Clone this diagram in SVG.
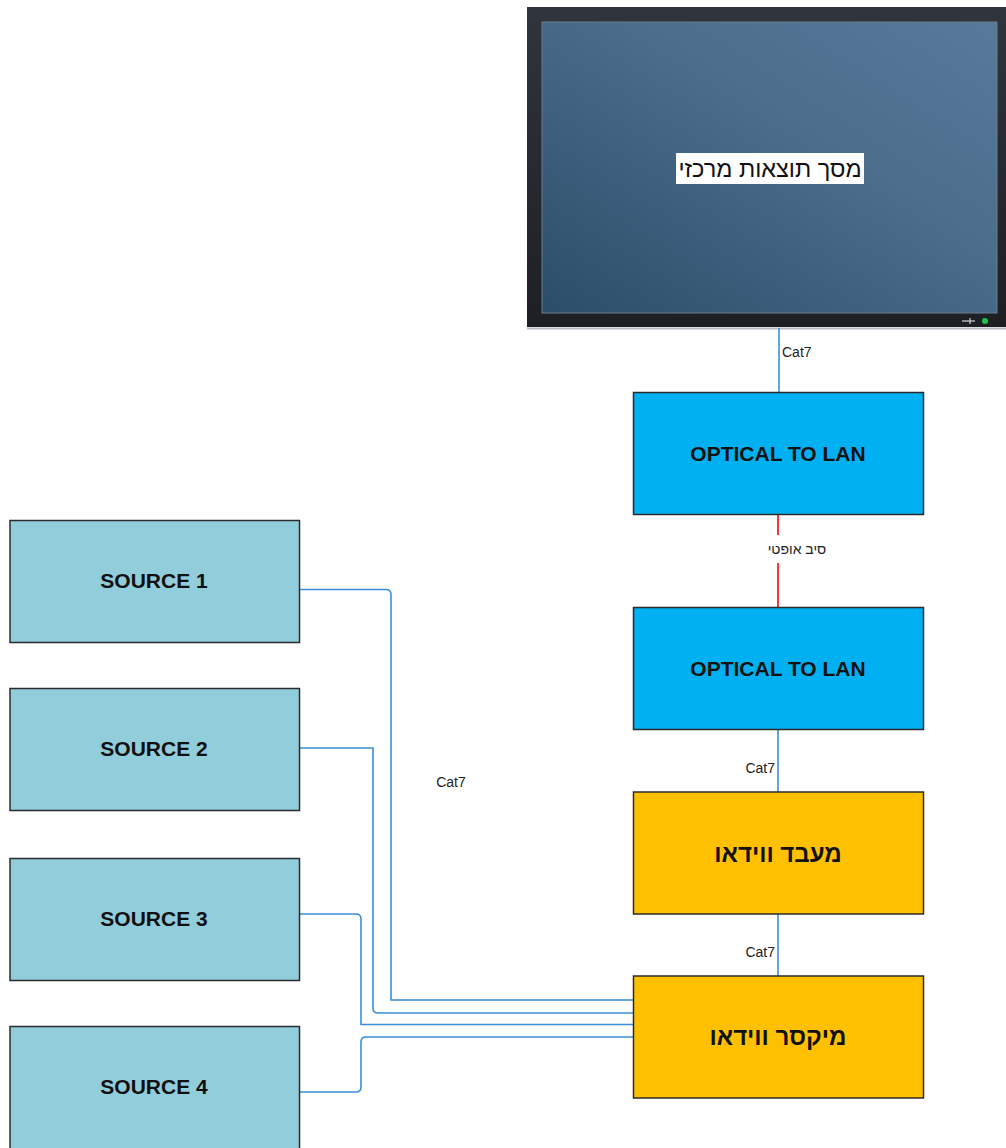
<svg xmlns="http://www.w3.org/2000/svg" width="1006" height="1148" viewBox="0 0 1006 1148">
<defs>
<linearGradient id="frameG" x1="0" y1="0" x2="0" y2="1">
<stop offset="0" stop-color="#30343c"/>
<stop offset="1" stop-color="#1d1f23"/>
</linearGradient>
<linearGradient id="screenG" x1="0" y1="1" x2="1" y2="0">
<stop offset="0" stop-color="#2a4d69"/>
<stop offset="0.6" stop-color="#4b6e8d"/>
<stop offset="1" stop-color="#58799a"/>
</linearGradient>
<style>
.box{stroke:#2b2b2b;stroke-width:1.5}
.src{fill:#92cddc}
.opt{fill:#00b0f0}
.yel{fill:#ffc000}
.lbl{font-family:"Liberation Sans","DejaVu Sans",sans-serif;font-weight:bold;font-size:21px;fill:#111;text-anchor:middle}
.heb{font-size:24px}
.small{font-family:"Liberation Sans","DejaVu Sans",sans-serif;font-size:14px;fill:#222}
.wire{fill:none;stroke:#3b8ed8;stroke-width:1.6}
</style>
</defs>

<g id="monitor">
<rect x="527" y="7" width="479" height="320" fill="url(#frameG)"/>
<rect x="542" y="22" width="455" height="291" fill="url(#screenG)" stroke="#6b7e90" stroke-width="1"/>
<line x1="527" y1="328.5" x2="1006" y2="328.5" stroke="#b8bcc2" stroke-width="2"/>
<line x1="962" y1="321" x2="975" y2="321" stroke="#cfd3d8" stroke-width="1.2"/>
<line x1="970" y1="318" x2="970" y2="324" stroke="#cfd3d8" stroke-width="1.2"/>
<circle cx="985" cy="321" r="3" fill="#1fc24a"/>
<rect x="676" y="153" width="188" height="31" fill="#ffffff"/>
<text x="770" y="177" font-family="Liberation Sans, DejaVu Sans, sans-serif" font-size="23.5" fill="#111" text-anchor="middle">מסך תוצאות מרכזי</text>
</g>

<g id="connectors">
<line x1="779" y1="328" x2="779" y2="392" class="wire"/>
<text x="782" y="357" class="small">Cat7</text>
<line x1="778" y1="515" x2="778" y2="535" stroke="#ff2020" stroke-width="1.8"/>
<line x1="778" y1="563" x2="778" y2="607" stroke="#ff2020" stroke-width="1.8"/>
<text x="797" y="554" class="small" text-anchor="middle" font-size="16">סיב אופטי</text>
<line x1="778" y1="730" x2="778" y2="792" class="wire"/>
<text x="775" y="773" class="small" text-anchor="end">Cat7</text>
<line x1="778" y1="914" x2="778" y2="976" class="wire"/>
<text x="775" y="957" class="small" text-anchor="end">Cat7</text>
<text x="451" y="787" class="small" text-anchor="middle">Cat7</text>
<path d="M300 589.5 H386 Q391 589.5 391 594.5 V1000 H633" class="wire"/>
<path d="M300 748 H373 V1008 Q373 1013 378 1013 H633" class="wire"/>
<path d="M300 914 H356 Q361 914 361 919 V1024.5 H633" class="wire"/>
<path d="M300 1092 H356 Q361 1092 361 1087 V1042 Q361 1037 366 1037 H633" class="wire"/>
</g>

<g id="optical1">
<rect x="633.5" y="392.5" width="290" height="122" class="box opt"/>
<text x="778" y="461" class="lbl">OPTICAL TO LAN</text>
</g>
<g id="optical2">
<rect x="633.5" y="607.5" width="290" height="122" class="box opt"/>
<text x="778" y="676" class="lbl">OPTICAL TO LAN</text>
</g>
<g id="processor">
<rect x="633.5" y="792" width="290" height="122" class="box yel"/>
<text x="778" y="862" class="lbl heb">מעבד ווידאו</text>
</g>
<g id="mixer">
<rect x="633.5" y="976" width="290" height="122" class="box yel"/>
<text x="778" y="1045" class="lbl heb">מיקסר ווידאו</text>
</g>

<g id="source1">
<rect x="10" y="520.5" width="289.5" height="122" class="box src"/>
<text x="154" y="588" class="lbl">SOURCE 1</text>
</g>
<g id="source2">
<rect x="10" y="688.5" width="289.5" height="122" class="box src"/>
<text x="154" y="756" class="lbl">SOURCE 2</text>
</g>
<g id="source3">
<rect x="10" y="858.5" width="289.5" height="122" class="box src"/>
<text x="154" y="926" class="lbl">SOURCE 3</text>
</g>
<g id="source4">
<rect x="10" y="1026.5" width="289.5" height="130" class="box src"/>
<text x="154" y="1094" class="lbl">SOURCE 4</text>
</g>
</svg>
